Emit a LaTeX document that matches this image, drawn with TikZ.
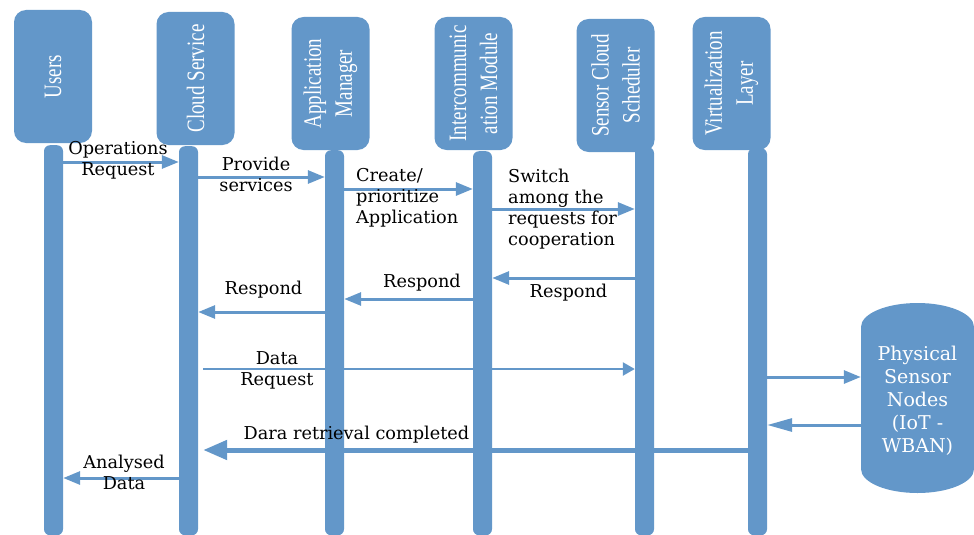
\documentclass[tikz,border=0pt]{standalone}
\usepackage{fontspec}
\setmainfont{DejaVu Serif}
\newfontfamily\headfont[FakeStretch=0.76]{Liberation Serif}
\usetikzlibrary{arrows.meta,shapes.geometric,backgrounds}
\definecolor{lane}{RGB}{99,151,201}

\begin{document}
\begin{tikzpicture}[x=1pt,y=-1pt,
  head/.style={fill=lane,rounded corners=12pt,rotate=90,minimum width=133pt,minimum height=78pt,
    inner sep=0pt,align=center,text=white,font=\headfont\fontsize{25}{31}\selectfont},
  bar/.style={fill=lane,rounded corners=6pt,anchor=north,minimum width=19pt,inner sep=0pt},
  msg/.style={draw=lane,line width=3pt,-{Triangle[length=17pt,width=13pt]}},
  lbl/.style={font=\fontsize{17.7}{21}\selectfont,align=center,inner sep=0pt}]
\useasboundingbox (0,0) rectangle (974,535);

% participants
\node[head] (usr) at (53,76.5) {Users};
\node[head] (cld) at (195.5,78.5) {Cloud Service};
\node[head] (app) at (330.5,83.5) {Application\\Manager};
\node[head] (icm) at (473.5,83.5) {Intercommunic\\ation Module};
\node[head] (sch) at (615.5,85.5) {Sensor Cloud\\Scheduler};
\node[head] (vir) at (731.5,83.5) {Virtualization\\Layer};

% lifelines
\node[bar,minimum height=390pt] (usrL) at (53.5,145) {};
\node[bar,minimum height=389pt] (cldL) at (188.5,146) {};
\node[bar,minimum height=385pt] (appL) at (334.5,150) {};
\node[bar,minimum height=384pt] (icmL) at (482.5,151) {};
\node[bar,minimum height=388pt] (schL) at (644.5,147) {};
\node[bar,minimum height=387pt] (virL) at (757.5,148) {};

% sensor store, text lifted to sit in the middle of the body
\node[cylinder,shape border rotate=90,aspect=0.6,fill=lane,minimum width=113pt,minimum height=190pt,
  inner sep=0pt,text=white,anchor=shape center,font=\fontsize{19}{23}\selectfont] (phys) at (917.5,398)
  {\raisebox{8.5pt}[\height][\depth]{\begin{tabular}{@{}c@{}}Physical\\Sensor\\Nodes\\(IoT -\\WBAN)\end{tabular}}};

% messages
\draw[msg] (usrL.east |- 0,162) -- (cldL.west |- 0,162);
\draw[msg] (cldL.east |- 0,177) -- (appL.west |- 0,177);
\draw[msg] (appL.east |- 0,189) -- (icmL.west |- 0,189);
\draw[msg] (icmL.east |- 0,209) -- (schL.west |- 0,209);
\draw[msg] (schL.west |- 0,278) -- (icmL.east |- 0,278);
\draw[msg] (icmL.west |- 0,299) -- (appL.east |- 0,299);
\draw[msg] (appL.west |- 0,312) -- (cldL.east |- 0,312);
\draw[msg] (virL.east |- 0,377) -- (phys.west |- 0,377);
\draw[msg,-{Triangle[length=25pt,width=13pt]}] (phys.west |- 0,425) -- (virL.east |- 0,425);
\draw[msg] (cldL.west |- 0,478) -- (usrL.east |- 0,478);
\begin{scope}[on background layer]
\draw[msg,line width=2.5pt,shorten <=5pt,-{Triangle[length=12pt,width=13pt]}] (cldL.east |- 0,369) -- (schL.west |- 0,369);
\draw[msg,line width=5pt,shorten >=5pt,-{Triangle[length=24pt,width=19pt]}] (virL.west |- 0,450) -- (cldL.east |- 0,450);
\end{scope}

% labels
\node[lbl] (opreq) at (118,160.5) {Operations\\Request};
\node[lbl] (prov) at (256,174) {Provide\\services};
\node[lbl,align=left,anchor=west] (crt) at (356,197.5) {Create/\\prioritize\\Application};
\node[lbl,align=left,anchor=west] (swt) at (508,209) {Switch\\among the\\requests for\\cooperation};
\node[lbl] (rsp1) at (568.5,293) {Respond};
\node[lbl] (rsp2) at (422,283) {Respond};
\node[lbl] (rsp3) at (263.5,290) {Respond};
\node[lbl] (dreq) at (277,370) {Data\\Request};
\node[lbl] (done) at (356.5,435) {Dara retrieval completed};
\node[lbl] (anl) at (124,472.5) {Analysed\\Data};
\end{tikzpicture}
\end{document}
